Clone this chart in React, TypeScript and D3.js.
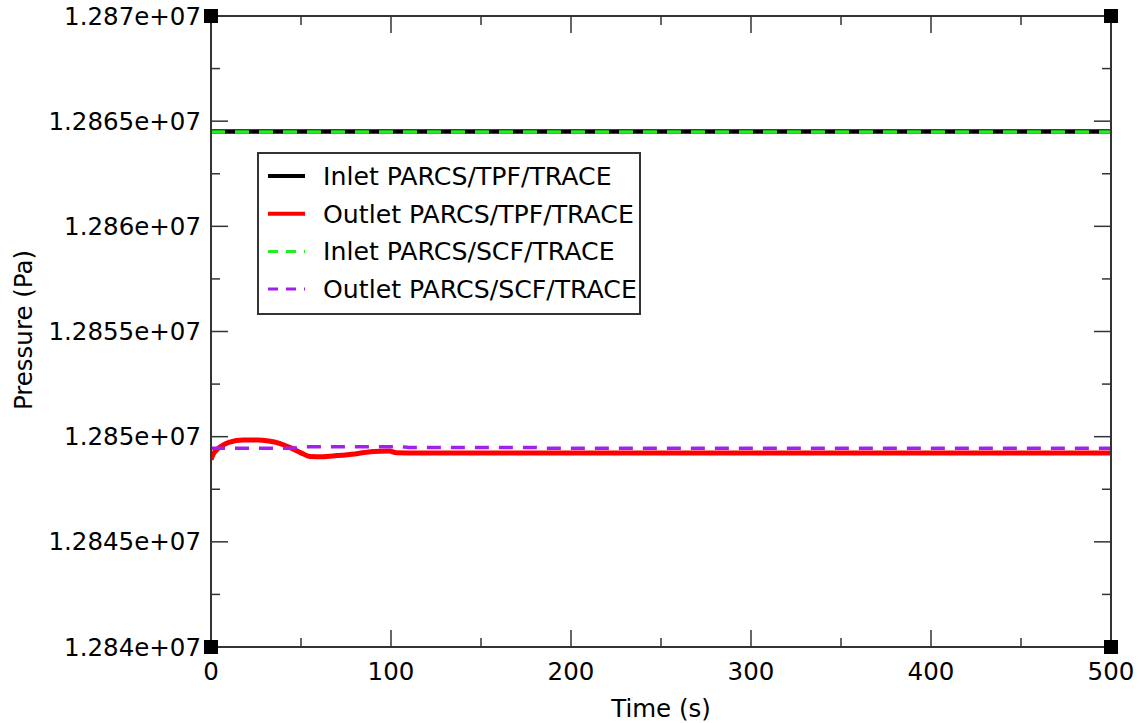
import React from "react";
import * as d3 from "d3";

const W = 1139, H = 723;
const xTicks = [0, 100, 200, 300, 400, 500];
const yTicks = [12840000, 12845000, 12850000, 12855000, 12860000, 12865000, 12870000];
const yTickLabels = ["1.284e+07", "1.2845e+07", "1.285e+07", "1.2855e+07", "1.286e+07", "1.2865e+07", "1.287e+07"];

const inletTpfT = [0, 500];
const inletTpfP = [12864510, 12864510];
const outletTpfT = [0, 1, 3, 6, 10, 18, 26, 32, 38, 44, 50, 55, 62, 70, 80, 90, 99, 103, 110, 200, 300, 400, 500];
const outletTpfP = [12848900, 12849130, 12849360, 12849560, 12849730, 12849840, 12849840, 12849790, 12849680, 12849480, 12849230, 12849060, 12849050, 12849100, 12849180, 12849300, 12849320, 12849230, 12849225, 12849225, 12849225, 12849225, 12849225];
const inletScfT = [0, 500];
const inletScfP = [12864490, 12864490];
const outletScfT = [0, 45, 52, 105, 110, 180, 185, 500];
const outletScfP = [12849450, 12849450, 12849520, 12849520, 12849490, 12849490, 12849455, 12849455];

const legendLabels = ["Inlet PARCS/TPF/TRACE", "Outlet PARCS/TPF/TRACE", "Inlet PARCS/SCF/TRACE", "Outlet PARCS/SCF/TRACE"];

const L = 211, R = 1111, T = 16, B = 647;
const FONT = "DejaVu Sans, sans-serif";
const FS = 24.5;
const LFS = 25.2;

export default function App() {
  const x = d3.scaleLinear().domain([0, 500]).range([L, R]);
  const y = d3.scaleLinear().domain([12840000, 12870000]).range([B, T]);
  const line = d3.line<[number, number]>().x(d => x(d[0])).y(d => y(d[1])).curve(d3.curveMonotoneX);
  const mk = (t: number[], p: number[]) => t.map((v, i) => [v, p[i]] as [number, number]);

  const series = [
    { d: mk(inletTpfT, inletTpfP), color: "#000000", w: 4.5, dash: undefined as string | undefined },
    { d: mk(outletTpfT, outletTpfP), color: "#ff0000", w: 5, dash: undefined },
    { d: mk(inletScfT, inletScfP), color: "#22ee22", w: 3.5, dash: "14,10" },
    { d: mk(outletScfT, outletScfP), color: "#a020f0", w: 3.5, dash: "14,10" },
  ];
  const legendColors = ["#000000", "#ff0000", "#22ee22", "#a020f0"];
  const legendDash = [undefined, undefined, "10,8", "10,8"];

  const xMinor = d3.range(50, 500, 100);
  const yMinor = d3.range(12842500, 12870000, 5000);

  return (
    <svg width={W} height={H} style={{ position: "absolute", left: 0, top: 0 }} fontFamily={FONT}>
      <rect x={0} y={0} width={W} height={H} fill="#fff" />
      <defs>
        <clipPath id="clip"><rect x={L} y={T} width={R - L} height={B - T} /></clipPath>
      </defs>
      {xTicks.map(t => (
        <g key={"xt" + t} stroke="#333" strokeWidth={1.5}>
          <line x1={x(t)} x2={x(t)} y1={B} y2={B - 17} />
          <line x1={x(t)} x2={x(t)} y1={T} y2={T + 17} />
        </g>
      ))}
      {xMinor.map(t => (
        <g key={"xm" + t} stroke="#333" strokeWidth={1.5}>
          <line x1={x(t)} x2={x(t)} y1={B} y2={B - 9} />
          <line x1={x(t)} x2={x(t)} y1={T} y2={T + 9} />
        </g>
      ))}
      {yTicks.map(t => (
        <g key={"yt" + t} stroke="#333" strokeWidth={1.5}>
          <line x1={L} x2={L + 17} y1={y(t)} y2={y(t)} />
          <line x1={R} x2={R - 17} y1={y(t)} y2={y(t)} />
        </g>
      ))}
      {yMinor.map(t => (
        <g key={"ym" + t} stroke="#333" strokeWidth={1.5}>
          <line x1={L} x2={L + 9} y1={y(t)} y2={y(t)} />
          <line x1={R} x2={R - 9} y1={y(t)} y2={y(t)} />
        </g>
      ))}
      <g clipPath="url(#clip)">
        {series.map((s, i) => (
          <path key={i} d={line(s.d) || ""} fill="none" stroke={s.color} strokeWidth={s.w} strokeDasharray={s.dash} />
        ))}
      </g>
      <rect x={L} y={T} width={R - L} height={B - T} fill="none" stroke="#333" strokeWidth={2} />
      {[[L, T], [R, T], [L, B], [R, B]].map(([cx, cy], i) => (
        <rect key={"c" + i} x={cx - 7} y={cy - 7} width={14} height={14} fill="#000" />
      ))}
      {xTicks.map(t => (
        <text key={"xl" + t} x={x(t)} y={680} textAnchor="middle" fontSize={FS} fill="#000">{t}</text>
      ))}
      {yTicks.map((t, i) => (
        <text key={"yl" + t} x={201} y={y(t) + 8.5} textAnchor="end" fontSize={FS} fill="#000">{yTickLabels[i]}</text>
      ))}
      <text x={661} y={717} textAnchor="middle" fontSize={FS} fill="#000">Time (s)</text>
      <text transform={`translate(32,${330}) rotate(-90)`} textAnchor="middle" fontSize={FS} fill="#000">Pressure (Pa)</text>
      <rect x={258} y={153} width={382} height={161} fill="#fff" stroke="#333" strokeWidth={2} />
      {legendLabels.map((lab, i) => {
        const cy = 176 + i * 37.7;
        return (
          <g key={"lg" + i}>
            <line x1={268} x2={305} y1={cy} y2={cy} stroke={legendColors[i]} strokeWidth={i < 2 ? 4 : 3} strokeDasharray={legendDash[i]} />
            <text x={323} y={cy + 9} fontSize={LFS} fill="#000">{lab}</text>
          </g>
        );
      })}
    </svg>
  );
}
